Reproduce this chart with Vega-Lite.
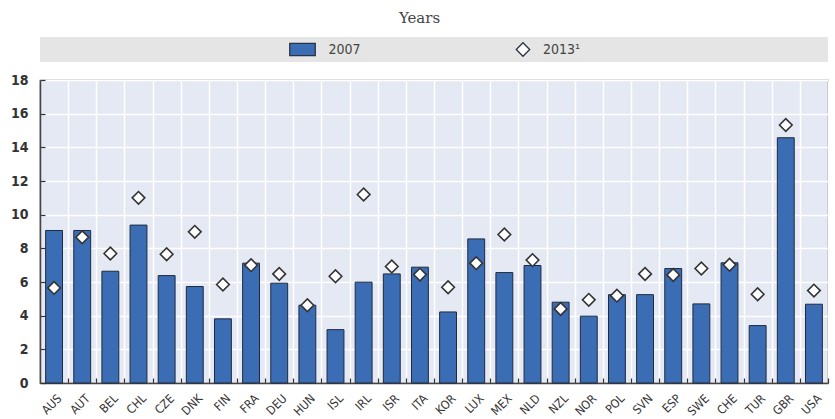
{
  "$schema": "https://vega.github.io/schema/vega-lite/v6.json",
  "padding": {"left": 9, "top": 11, "right": 0, "bottom": 0},
  "background": "white",
  "title": {"text": "Years", "anchor": "middle", "frame": "bounds", "font": "DejaVu Serif", "fontSize": 15, "fontWeight": "normal", "color": "#444", "offset": 11},
  "config": {
    "concat": {"spacing": 10},
    "axis": {"labelFont": "DejaVu Sans Condensed, Liberation Sans, sans-serif", "labelColor": "#333", "domainColor": "#444", "tickColor": "#333"}
  },
  "datasets": {
    "main": [
      {"country": "AUS", "y2007": 9.06, "y2013": 5.65},
      {"country": "AUT", "y2007": 9.06, "y2013": 8.66},
      {"country": "BEL", "y2007": 6.64, "y2013": 7.69},
      {"country": "CHL", "y2007": 9.38, "y2013": 11.0},
      {"country": "CZE", "y2007": 6.38, "y2013": 7.65},
      {"country": "DNK", "y2007": 5.73, "y2013": 8.98},
      {"country": "FIN", "y2007": 3.81, "y2013": 5.85},
      {"country": "FRA", "y2007": 7.12, "y2013": 7.0},
      {"country": "DEU", "y2007": 5.93, "y2013": 6.48},
      {"country": "HUN", "y2007": 4.62, "y2013": 4.62},
      {"country": "ISL", "y2007": 3.17, "y2013": 6.34},
      {"country": "IRL", "y2007": 5.99, "y2013": 11.2},
      {"country": "ISR", "y2007": 6.48, "y2013": 6.92},
      {"country": "ITA", "y2007": 6.88, "y2013": 6.44},
      {"country": "KOR", "y2007": 4.22, "y2013": 5.69},
      {"country": "LUX", "y2007": 8.56, "y2013": 7.12},
      {"country": "MEX", "y2007": 6.56, "y2013": 8.82},
      {"country": "NLD", "y2007": 6.98, "y2013": 7.3},
      {"country": "NZL", "y2007": 4.8, "y2013": 4.4},
      {"country": "NOR", "y2007": 3.97, "y2013": 4.94},
      {"country": "POL", "y2007": 5.25, "y2013": 5.19},
      {"country": "SVN", "y2007": 5.25, "y2013": 6.48},
      {"country": "ESP", "y2007": 6.8, "y2013": 6.42},
      {"country": "SWE", "y2007": 4.7, "y2013": 6.8},
      {"country": "CHE", "y2007": 7.14, "y2013": 7.02},
      {"country": "TUR", "y2007": 3.41, "y2013": 5.27},
      {"country": "GBR", "y2007": 14.57, "y2013": 15.33},
      {"country": "USA", "y2007": 4.68, "y2013": 5.49}
    ],
    "legend": [
      {"series": "2007"},
      {"series": "2013¹"}
    ]
  },
  "vconcat": [
    {
      "width": 788,
      "height": 25,
      "view": {"fill": "#e5e5e5", "stroke": null},
      "data": {"name": "legend"},
      "encoding": {
        "x": {"field": "series", "type": "nominal", "axis": null,
              "scale": {"type": "point", "domain": [" ", "2007", "2013¹", "  "], "padding": 0.287, "align": 0.332}},
        "y": {"value": 12.5}
      },
      "layer": [
        {
          "mark": {"type": "point", "filled": true, "stroke": "#2a3344", "strokeWidth": 1.3, "opacity": 1},
          "encoding": {
            "shape": {"field": "series", "type": "nominal", "legend": null,
                      "scale": {"domain": ["2007", "2013¹"], "range": ["M-1,-0.48H1V0.48H-1Z", "diamond"]}},
            "fill": {"field": "series", "type": "nominal", "legend": null,
                     "scale": {"domain": ["2007", "2013¹"], "range": ["#3b6db4", "#ffffff"]}},
            "size": {"field": "series", "type": "nominal", "legend": null,
                     "scale": {"domain": ["2007", "2013¹"], "range": [650, 180]}}
          }
        },
        {
          "transform": [{"filter": "datum.series == '2007'"}],
          "mark": {"type": "text", "align": "left", "baseline": "middle", "dx": 26, "font": "DejaVu Sans Condensed, Liberation Sans, sans-serif", "fontSize": 14, "color": "#444"},
          "encoding": {"text": {"field": "series"}}
        },
        {
          "transform": [{"filter": "datum.series != '2007'"}],
          "mark": {"type": "text", "align": "left", "baseline": "middle", "dx": 20, "font": "DejaVu Sans Condensed, Liberation Sans, sans-serif", "fontSize": 14, "color": "#444"},
          "encoding": {"text": {"field": "series"}}
        }
      ]
    },
    {
      "width": 788,
      "height": 303,
      "view": {"fill": "#e4e9f3", "stroke": "#555", "strokeWidth": 1.2},
      "data": {"name": "main"},
      "encoding": {
        "x": {"field": "country", "type": "nominal", "sort": null, "title": null,
              "scale": {"paddingInner": 0.4, "paddingOuter": 0.2},
              "axis": {"labelAngle": -45, "labelAlign": "right", "labelBaseline": "middle", "labelFontSize": 12,
                       "tickOffset": 14.07, "labelOffset": -9, "tickSize": -5, "tickWidth": 1.2, "labelPadding": 18,
                       "labelOverlap": false,
                       "encode": {"labels": {"update": {"angle": {"value": -45}}}},
                       "grid": true, "gridColor": "#ffffff", "gridWidth": 1.5, "domainWidth": 1.5}}
      },
      "layer": [
        {
          "mark": {"type": "bar", "fill": "#3b6db4", "stroke": "#1f2a3c", "strokeWidth": 1},
          "encoding": {
            "y": {"field": "y2007", "type": "quantitative", "title": null,
                  "scale": {"domain": [0, 18], "nice": false},
                  "axis": {"values": [0, 2, 4, 6, 8, 10, 12, 14, 16, 18], "tickCount": 10, "grid": true, "gridColor": "#ffffff", "gridWidth": 1.5,
                           "labelOverlap": false, "labelFontSize": 14, "labelFontWeight": "bold",
                           "tickSize": -5, "tickWidth": 1.2, "labelPadding": 17, "domainWidth": 1.5}}
          }
        },
        {
          "mark": {"type": "point", "shape": "diamond", "filled": true, "fill": "#ffffff", "stroke": "#333", "strokeWidth": 1.6, "size": 160, "opacity": 1},
          "encoding": {
            "y": {"field": "y2013", "type": "quantitative", "title": null,
                  "scale": {"domain": [0, 18], "nice": false},
                  "axis": {"values": [0, 2, 4, 6, 8, 10, 12, 14, 16, 18], "tickCount": 10, "grid": true, "gridColor": "#ffffff", "gridWidth": 1.5,
                           "labelOverlap": false, "labelFontSize": 14, "labelFontWeight": "bold",
                           "tickSize": -5, "tickWidth": 1.2, "labelPadding": 17, "domainWidth": 1.5}}
          }
        }
      ]
    }
  ]
}
